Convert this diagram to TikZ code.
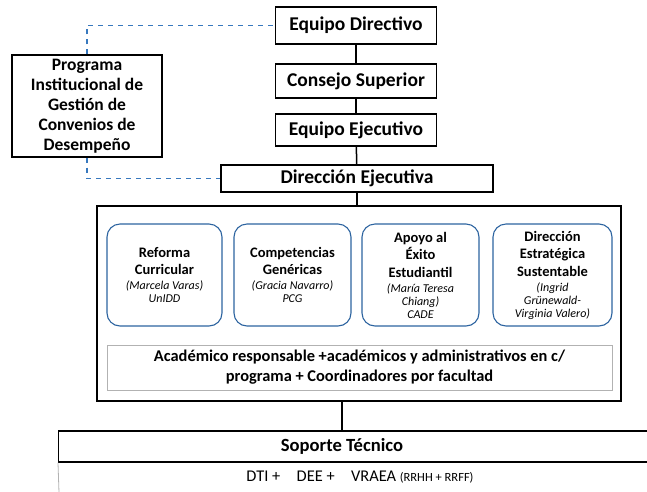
\documentclass[tikz,border=0pt]{standalone}
\usepackage{fontspec}
\setmainfont{Carlito}
\definecolor{lineaazul}{RGB}{55,120,190}
\definecolor{bordeazul}{RGB}{45,100,160}
\newcommand{\nombreit}{\itshape\mdseries\fontsize{12}{13}\selectfont}
\begin{document}
\begin{tikzpicture}[x=1pt,y=-1pt,
	caja/.style={draw, line width=1.4pt, rectangle, inner sep=0pt, align=center, font=\bfseries\fontsize{19.5}{21}\selectfont},
	unidad/.style={draw=bordeazul, line width=1.1pt, rounded corners=13pt, minimum height=102pt, inner sep=0pt, align=center, font=\bfseries\fontsize{14.5}{17.5}\selectfont},
	enlace/.style={draw=lineaazul, line width=1.5pt, dash pattern=on 5pt off 5pt}]

	\useasboundingbox (0,0) rectangle (647,491);

	\node (equipo) [caja, minimum width=161, minimum height=37] at (356, 25.5) {Equipo Directivo};
	\node (consejo) [caja, minimum width=161, minimum height=34] at (356, 81) {Consejo Superior};
	\node (ejecutivo) [caja, minimum width=161, minimum height=32] at (356, 130) {Equipo Ejecutivo};
	\node (direccion) [caja, minimum width=272, minimum height=27] at (357, 178.5) {Direcci\'on Ejecutiva};
	\node (programa) [caja, minimum width=150, minimum height=102, font=\bfseries\fontsize{17.5}{20}\selectfont] at (87, 106)
		{Programa\\Institucional de\\Gesti\'on de\\Convenios de\\Desempe\~no};

	\node (unidades) [caja, minimum width=524, minimum height=195] at (359, 303.5) {};
	\node (reforma) [unidad, minimum width=115] at (164.5, 275)
		{Reforma\\Curricular\\[-2.5pt]{\nombreit (Marcela Varas)}\\[-4.5pt]{\nombreit UnIDD}};
	\node (genericas) [unidad, minimum width=117] at (292.5, 275)
		{Competencias\\Gen\'ericas\\[-2.5pt]{\nombreit (Gracia Navarro)}\\[-4.5pt]{\nombreit PCG}};
	\node (apoyo) [unidad, minimum width=117] at (420.5, 275)
		{Apoyo al\\\'Exito\\Estudiantil\\[-2.5pt]{\nombreit (Mar\'ia Teresa}\\[-4.5pt]{\nombreit Chiang)}\\[-4.5pt]{\nombreit CADE}};
	\node (sustentable) [unidad, minimum width=119] at (552.5, 275)
		{Direcci\'on\\Estrat\'egica\\Sustentable\\[-2.5pt]{\nombreit (Ingrid}\\[-4.5pt]{\nombreit Gr\"unewald-}\\[-4.5pt]{\nombreit Virginia Valero)}};
	\node (academico) [draw=gray!60, line width=0.9pt, minimum width=505, minimum height=45, align=center,
		font=\bfseries\fontsize{16.4}{20}\selectfont] at (359.5, 367.5)
		{Acad\'emico responsable +acad\'emicos y administrativos en c/\\programa + Coordinadores por facultad};

	\node (soporte) [caja, minimum width=622, minimum height=31, anchor=west] at (58, 446.5) {};
	\node (soportetit) [font=\bfseries\fontsize{18.6}{20}\selectfont] at (342, 446.5) {Soporte T\'ecnico};
	\node (recursos) [font=\fontsize{16.4}{18}\selectfont] at (360, 477)
		{DTI +\quad DEE +\quad VRAEA {\fontsize{12.5}{14}\selectfont (RRHH + RRFF)}};
	\draw[gray!60, line width=0.8pt] (soporte.south west) -- ++(1, 30);

	\path[every edge/.style={draw, line width=1.5pt}]
	(equipo) edge (consejo)
	(consejo) edge (ejecutivo)
	(ejecutivo) edge (direccion)
	(direccion.south) edge (direccion.south |- unidades.north)
	(soportetit |- unidades.south) edge (soportetit |- soporte.north);

	\draw[enlace] (programa.north) |- (equipo.west);
	\draw[enlace] (programa.south) |- (direccion.west);

\end{tikzpicture}
\end{document}
